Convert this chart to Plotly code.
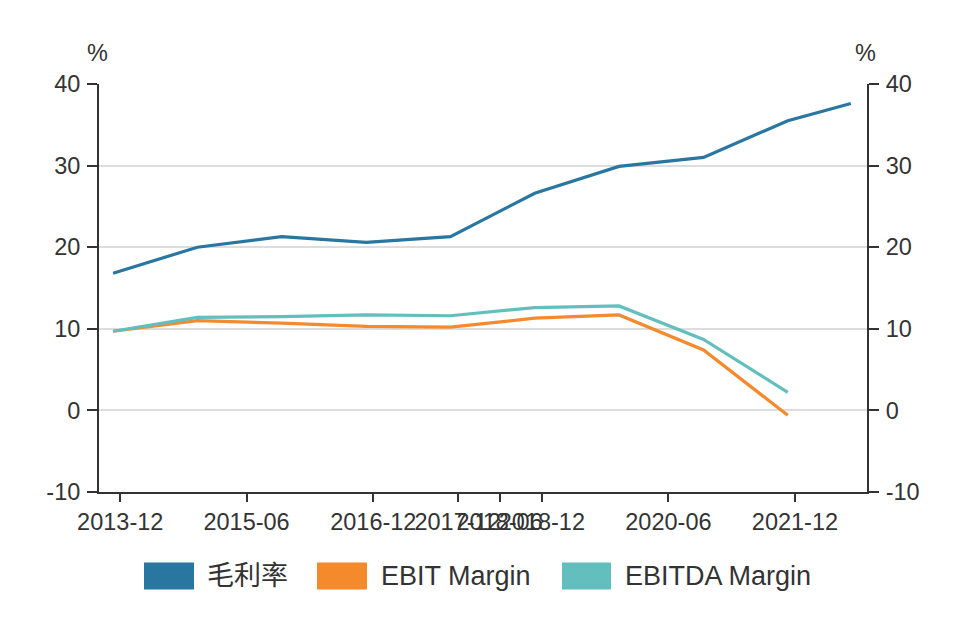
import plotly.graph_objects as go

# ---- data ----
dates = ["2013-10-31", "2014-10-31", "2015-10-31", "2016-10-31", "2017-10-31",
         "2018-10-31", "2019-10-31", "2020-10-31", "2021-10-31", "2022-07-31"]
gross_margin = [16.8, 20.0, 21.3, 20.6, 21.3, 26.6, 29.9, 31.0, 35.5, 37.6]
ebit_margin = [9.7, 11.0, 10.7, 10.3, 10.2, 11.3, 11.7, 7.4, -0.6]
ebitda_margin = [9.7, 11.4, 11.5, 11.7, 11.6, 12.6, 12.8, 8.7, 2.2]

series_names = ["毛利率", "EBIT Margin", "EBITDA Margin"]
colors = ["#2977a0", "#f58a2c", "#63bfbd"]

tick_dates = ["2013-12-01", "2015-06-01", "2016-12-01", "2017-12-01",
              "2018-06-01", "2018-12-01", "2020-06-01", "2021-12-01"]
tick_labels = ["2013-12", "2015-06", "2016-12", "2017-12",
               "2018-06", "2018-12", "2020-06", "2021-12"]
y_ticks = [-10, 0, 10, 20, 30, 40]
y_labels = ["-10", "0", "10", "20", "30", "40"]

# ---- layout geometry (page has an 8px body margin) ----
OFF = 8
W, H = 968 - OFF, 618 - OFF
L, T = 99 - OFF, 84 - OFF
PW, PH = 768, 408
R, B = W - L - PW, H - T - PH


def px2x(px):
    return (px - OFF - L) / PW


def py2y(py):
    return (T + PH - (py - OFF)) / PH


FONT = "Liberation Sans, Arial, Noto Sans CJK SC, sans-serif"
TXT = "#333333"

fig = go.Figure()
for i, (vals, name, col) in enumerate(zip([gross_margin, ebit_margin, ebitda_margin], series_names, colors)):
    fig.add_trace(go.Scatter(
        x=dates[:len(vals)], y=vals, name=name, mode="lines",
        line=dict(color=col, width=3.2), showlegend=False,
        yaxis="y2" if i == 0 else "y",
    ))

axis_common = dict(
    range=[-10, 40], tickvals=y_ticks, ticktext=y_labels,
    showline=True, linecolor=TXT, linewidth=2,
    ticks="outside", ticklen=10, tickwidth=2, tickcolor=TXT,
    tickfont=dict(size=23.5, color=TXT, family=FONT), zeroline=False,
    ticklabelstandoff=2,
)

fig.update_layout(
    width=W, height=H,
    margin=dict(l=L, r=R, t=T, b=B),
    paper_bgcolor="white", plot_bgcolor="white",
    font=dict(family=FONT, color=TXT),
    xaxis=dict(
        type="date", range=["2013-08-31", "2022-10-09"],
        tickvals=tick_dates, ticktext=tick_labels, tickangle=0,
        showline=True, linecolor=TXT, linewidth=2,
        ticks="outside", ticklen=8, tickwidth=2, tickcolor=TXT,
        tickfont=dict(size=23.5, color=TXT, family=FONT),
        showgrid=False, zeroline=False,
    ),
    yaxis=dict(**axis_common, showgrid=True, gridcolor="#dddddd", gridwidth=1.5, side="left"),
    yaxis2=dict(**axis_common, showgrid=False, side="right", overlaying="y"),
    showlegend=False,
)

# axis unit labels
for xp, dx in [(0, -2), (1, -2)]:
    fig.add_annotation(x=xp, y=py2y(53), xref="paper", yref="paper", text="%",
                       showarrow=False, xanchor="center", yanchor="middle", xshift=dx,
                       font=dict(size=23.5, color=TXT, family=FONT))

# custom legend
rects = [(144, 194), (317, 367), (562, 611)]
text_x = [205, 379, 623]
for (x0, x1), tx, name, col in zip(rects, text_x, series_names, colors):
    fig.add_shape(type="rect", xref="paper", yref="paper",
                  x0=px2x(x0), x1=px2x(x1), y0=py2y(589.5), y1=py2y(562.5),
                  fillcolor=col, line=dict(width=0))
    fig.add_annotation(x=px2x(tx), y=py2y(576), xref="paper", yref="paper", text=name,
                       showarrow=False, xanchor="left", yanchor="middle",
                       font=dict(size=27, color=TXT, family=FONT))

fig.write_html("out.html")
